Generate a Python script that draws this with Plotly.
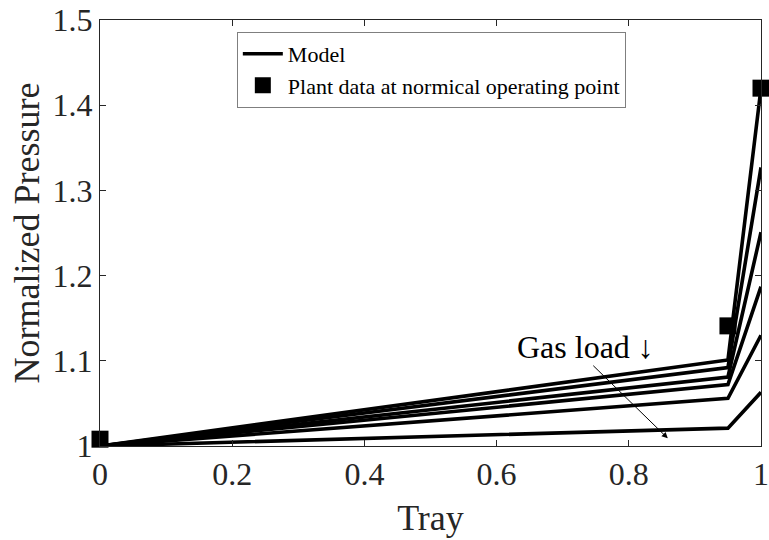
import plotly.graph_objects as go

# Tray position (normalized) and simulated pressure profiles, highest gas load first
tray = [0.0, 0.95, 1.0]
model_profiles = [
    [1.0, 1.101, 1.420],
    [1.0, 1.092, 1.327],
    [1.0, 1.081, 1.251],
    [1.0, 1.072, 1.187],
    [1.0, 1.056, 1.130],
    [1.0, 1.021, 1.063],
]

# Measured plant pressures at the nominal operating point
plant_tray = [0.0, 0.95, 1.0]
plant_pressure = [1.008, 1.141, 1.420]

x_ticks = [0, 0.2, 0.4, 0.6, 0.8, 1]
x_ticklabels = ["0", "0.2", "0.4", "0.6", "0.8", "1"]
y_ticks = [1.0, 1.1, 1.2, 1.3, 1.4, 1.5]
y_ticklabels = ["1", "1.1", "1.2", "1.3", "1.4", "1.5"]

FONT = "Liberation Serif"

fig = go.Figure()

for i, prof in enumerate(model_profiles):
    fig.add_trace(go.Scatter(
        x=tray, y=prof, mode="lines",
        line=dict(color="black", width=3.6),
        name="Model", legendgroup="model", showlegend=(i == 0),
    ))

fig.add_trace(go.Scatter(
    x=plant_tray, y=plant_pressure, mode="markers",
    marker=dict(symbol="square", size=17, color="black"),
    name="Plant data at normical operating point",
    cliponaxis=False,
))

axis_common = dict(
    showgrid=False, zeroline=False, showline=True, linecolor="#262626",
    linewidth=1, mirror="ticks", ticks="inside", ticklen=6, automargin=False,
    tickcolor="#262626", tickfont=dict(family=FONT, size=32, color="#262626"),
)

fig.update_xaxes(
    range=[0, 1], tickvals=x_ticks, ticktext=x_ticklabels,
    title=dict(text="Tray", font=dict(family=FONT, size=36, color="#262626"), standoff=13),
    **axis_common,
)
fig.update_yaxes(
    range=[1, 1.5], tickvals=y_ticks, ticktext=y_ticklabels,
    title=dict(text="Normalized Pressure", font=dict(family=FONT, size=36, color="#262626"), standoff=1),
    **axis_common,
)

# "Gas load" annotation with arrow pointing toward the lower profiles
fig.add_annotation(
    x=0.734, y=1.116, xref="x", yref="y", text="Gas load \u2193",
    showarrow=False, font=dict(family=FONT, size=32, color="black"),
)
fig.add_annotation(
    x=0.859, y=1.009, ax=0.744, ay=1.096, xref="x", yref="y",
    axref="x", ayref="y", text="", showarrow=True,
    arrowhead=2, arrowsize=1.2, arrowwidth=1, arrowcolor="black",
)

fig.update_layout(
    width=769, height=540,
    margin=dict(l=100, r=8, t=20, b=94),
    plot_bgcolor="white", paper_bgcolor="white",
    font=dict(family=FONT, color="black"),
    legend=dict(
        x=0.207, y=0.972, xanchor="left", yanchor="top",
        bordercolor="#7f7f7f", borderwidth=1, bgcolor="white",
        font=dict(family=FONT, size=22, color="black"),
        tracegroupgap=0, itemwidth=40,
    ),
)

fig.write_html("out.html")
